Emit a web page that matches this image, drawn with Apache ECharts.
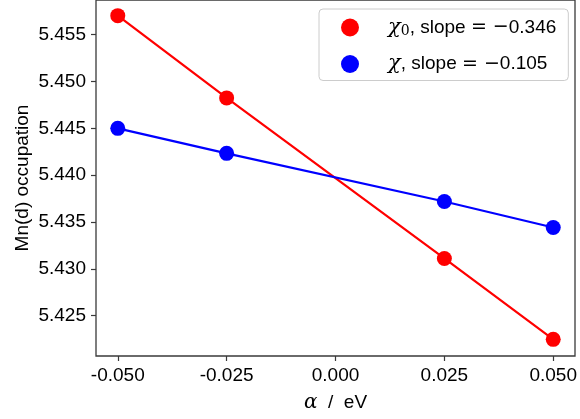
<!DOCTYPE html>
<html>
<head>
<meta charset="utf-8">
<script src="https://cdn.jsdelivr.net/npm/echarts@6/dist/echarts.min.js"></script>
<style>
  html, body { margin: 0; padding: 0; background: #ffffff; }
  #chart { width: 580px; height: 419px; }
</style>
</head>
<body>
<div id="chart"></div>
<script>
// Mn(d) occupation versus the applied potential shift alpha
const alphas = [-0.05, -0.025, 0.025, 0.05];
const chi0Values = [5.45703, 5.44825, 5.43111, 5.42248];
const chiValues = [5.44500, 5.44233, 5.43719, 5.43442];
const xTicks = [-0.05, -0.025, 0, 0.025, 0.05];
const yTicks = [5.425, 5.430, 5.435, 5.440, 5.445, 5.450, 5.455];
const chi0Slope = '0.346';
const chiSlope = '0.105';

const FONT = '"Liberation Sans", "DejaVu Sans", sans-serif';
const MATH = '"DejaVu Serif", "Liberation Serif", serif';
const SYM = '"DejaVu Sans", sans-serif';
const AXIS_COLOR = '#3a3a3a';

function pairs(xs, ys) {
  return xs.map((x, i) => [x, ys[i]]);
}

const chart = echarts.init(document.getElementById('chart'), null, { renderer: 'canvas' });

chart.setOption({
  animation: false,
  backgroundColor: '#ffffff',
  grid: {
    left: 96, right: 2, top: -1, bottom: 63, containLabel: false,
    show: true, borderColor: AXIS_COLOR, borderWidth: 1.3, backgroundColor: 'transparent'
  },
  xAxis: {
    type: 'value',
    min: -0.055,
    max: 0.055,
    name: '{m|\u03b1}  /  eV',
    nameLocation: 'middle',
    nameGap: 37,
    nameMoveOverlap: false,
    nameTextStyle: {
      fontFamily: FONT, fontSize: 19, color: '#000',
      rich: {
        m: { fontFamily: MATH, fontStyle: 'italic', fontSize: 20, color: '#000' }
      }
    },
    axisLine: { show: false },
    axisTick: { show: true, customValues: xTicks, length: 5, lineStyle: { color: AXIS_COLOR, width: 1.2 } },
    axisLabel: {
      customValues: xTicks,
      margin: 10,
      fontFamily: FONT, fontSize: 19, color: '#000',
      formatter: v => (v < 0 ? '-' : '') + Math.abs(v).toFixed(3)
    },
    splitLine: { show: false }
  },
  yAxis: {
    type: 'value',
    min: 5.4207,
    max: 5.4587,
    name: 'Mn(d) occupation',
    nameLocation: 'middle',
    nameGap: 64,
    nameMoveOverlap: false,
    nameTextStyle: { fontFamily: FONT, fontSize: 19, color: '#000' },
    axisLine: { show: false, onZero: false },
    axisTick: { show: true, customValues: yTicks, length: 5, lineStyle: { color: AXIS_COLOR, width: 1.2 } },
    axisLabel: {
      customValues: yTicks,
      margin: 10,
      fontFamily: FONT, fontSize: 19, color: '#000',
      formatter: v => v.toFixed(3)
    },
    splitLine: { show: false }
  },
  legend: {
    orient: 'vertical',
    left: 319,
    top: 9,
    width: 248,
    padding: [8, 12, 6, 22],
    itemGap: 15,
    itemWidth: 18,
    itemHeight: 18,
    icon: 'circle',
    backgroundColor: 'rgba(255,255,255,0.85)',
    borderColor: '#cccccc',
    borderWidth: 1,
    borderRadius: 4,
    data: ['chi0', 'chi'],
    formatter: name => name === 'chi0'
      ? '{m|\u03c7}{s|0}, slope {o|= \u2212}' + chi0Slope
      : '{m|\u03c7}, slope {o|= \u2212}' + chiSlope,
    textStyle: {
      fontFamily: FONT, fontSize: 19, color: '#000',
      padding: [0, 0, 0, 24],
      rich: {
        m: { fontFamily: MATH, fontStyle: 'italic', fontSize: 21, color: '#000' },
        s: { fontFamily: MATH, fontSize: 14, color: '#000', verticalAlign: 'bottom', padding: [8, 0, 0, 0] },
        o: { fontFamily: SYM, fontSize: 19, color: '#000' }
      }
    }
  },
  series: [
    {
      name: 'chi0',
      type: 'line',
      data: pairs(alphas, chi0Values),
      color: '#ff0000',
      lineStyle: { color: '#ff0000', width: 2.2 },
      symbol: 'circle',
      symbolSize: 15,
      itemStyle: { color: '#ff0000' },
      z: 3
    },
    {
      name: 'chi',
      type: 'line',
      data: pairs(alphas, chiValues),
      color: '#0000ff',
      lineStyle: { color: '#0000ff', width: 2.2 },
      symbol: 'circle',
      symbolSize: 15,
      itemStyle: { color: '#0000ff' },
      z: 4
    }
  ]
});
</script>
</body>
</html>
